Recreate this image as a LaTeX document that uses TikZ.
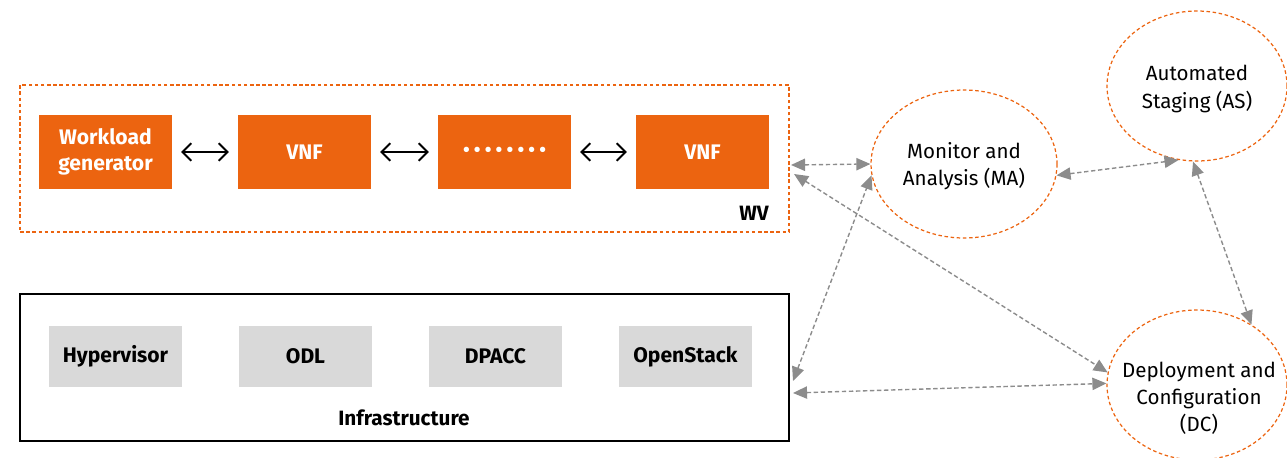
\documentclass[tikz,border=0pt]{standalone}
\usepackage{fontspec}
\setmainfont{Fira Sans}
\usetikzlibrary{shapes.geometric,arrows.meta}

\definecolor{vnforange}{HTML}{EC6410}
\definecolor{compgray}{HTML}{D9D9D9}
\definecolor{linkgray}{HTML}{8C8C8C}

\tikzset{
  vnfbox/.style={fill=vnforange, text=white, font=\fontsize{12}{15}\selectfont\bfseries,
    minimum width=2.66cm, minimum height=1.48cm, inner sep=0pt, align=center},
  compbox/.style={fill=compgray, font=\fontsize{12}{15}\selectfont\bfseries,
    minimum width=2.66cm, minimum height=1.22cm, inner sep=0pt},
  layer/.style={minimum width=15.38cm, minimum height=2.94cm, inner sep=0pt},
  module/.style={ellipse, draw=vnforange, line width=0.7pt, dash pattern=on 2pt off 1.5pt,
    minimum width=3.6cm, minimum height=3cm, inner sep=0pt},
  modtext/.style={align=center, inner sep=0pt, font=\fontsize{11.7}{15.4}\selectfont},
  chain/.style={line width=1.1pt, {Straight Barb[length=5pt,width=10pt]}-{Straight Barb[length=5pt,width=10pt]},
    shorten <=5pt, shorten >=5pt},
  link/.style={linkgray, line width=0.8pt, dash pattern=on 2.5pt off 1.5pt,
    {Triangle[length=8pt,width=7pt]}-{Triangle[length=8pt,width=7pt]}},
  lbl/.style={font=\fontsize{11.8}{15}\selectfont\bfseries, inner sep=0pt}
}

\newcommand{\dotrun}{\fontsize{11}{12}\selectfont
  \textbullet\hspace{2.4pt}\textbullet\hspace{2.4pt}\textbullet\hspace{2.4pt}\textbullet\hspace{2.4pt}%
  \textbullet\hspace{2.4pt}\textbullet\hspace{2.4pt}\textbullet\hspace{2.4pt}\textbullet}

\begin{document}
\begin{tikzpicture}[x=0.02cm, y=-0.02cm]
      \clip (0,0) rectangle (1287,457);

      \node[layer, draw=vnforange, line width=0.7pt, dash pattern=on 2pt off 1.5pt] (wv) at (404.5,158.5) {};
      \node[lbl] (wvname) at (754,213) {WV};

      \node[vnfbox] (wg) at (105.5,152) {Workload\\generator};
      \node[vnfbox] (vnf1) at (304.5,152) {VNF};
      \node[vnfbox] (dots) at (504.5,152) {\dotrun};
      \node[vnfbox] (vnf2) at (702.5,152) {VNF};

      \draw[chain] (wg) -- (vnf1);
      \draw[chain] (vnf1) -- (dots);
      \draw[chain] (dots) -- (vnf2);

      \node[layer, draw, line width=0.8pt] (infra) at (404.5,367.5) {};
      \node[lbl] (infraname) at (404,418) {Infrastructure};

      \node[compbox] (hyp) at (115.5,356.5) {Hypervisor};
      \node[compbox] (odl) at (305.5,356.5) {ODL};
      \node[compbox] (dpacc) at (495.5,356.5) {DPACC};
      \node[compbox] (ostack) at (685.5,356.5) {OpenStack};

      \node[module, minimum width=3.72cm, minimum height=2.96cm] (ma) at (964,164) {};
      \node[modtext] (matext) at (964,166) {Monitor and\\Analysis (MA)};
      \node[module] (as) at (1197,86) {};
      \node[modtext] (astext) at (1197,89) {Automated\\Staging (AS)};
      \node[module] (dc) at (1197,385) {};
      \node[modtext] (dctext) at (1199,398) {Deployment and\\Configuration\\(DC)};

      \coordinate (wv-ma) at (791,165);
      \coordinate (wv-dc) at (794,174);
      \coordinate (infra-ma) at (793,381);
      \coordinate (infra-dc) at (793,393);

      \draw[link] (wv-ma) -- (ma.west);
      \draw[link] (wv-dc) -- (dc.172);
      \draw[link] (infra-ma) -- (ma.187);
      \draw[link] (infra-dc) -- (dc.179);
      \draw[link] (ma.-7) -- (as.256);
      \draw[link] (as.267) -- (dc.48);
\end{tikzpicture}
\end{document}
